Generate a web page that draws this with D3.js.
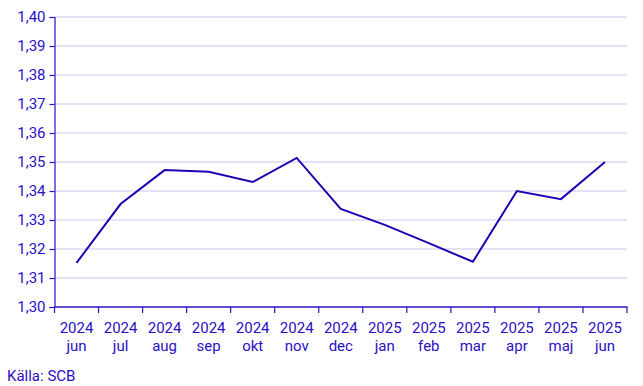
<!DOCTYPE html>
<html>
<head>
<meta charset="utf-8">
<script src="https://d3js.org/d3.v7.min.js"></script>
<style>
  body { margin: 0; background: #fff; }
  text { font-family: Roboto, Arial, sans-serif; }
</style>
</head>
<body>
<svg width="643" height="386"></svg>
<script>
// monthly values, jun 2024 - jun 2025
var years = ["2024", "2024", "2024", "2024", "2024", "2024", "2024", "2025", "2025", "2025", "2025", "2025", "2025"];
var months = ["jun", "jul", "aug", "sep", "okt", "nov", "dec", "jan", "feb", "mar", "apr", "maj", "jun"];
var values = [1.3152, 1.3355, 1.3472, 1.3466, 1.3431, 1.3514, 1.3338, 1.3283, 1.3220, 1.3156, 1.3400, 1.3372, 1.3500];
var yTicks = [1.30, 1.31, 1.32, 1.33, 1.34, 1.35, 1.36, 1.37, 1.38, 1.39, 1.40];

var ink = "#2a10c4";
var svg = d3.select("svg");
var plotL = 54.5, plotR = 627, plotT = 17, plotB = 307;

var x = d3.scaleBand().domain(d3.range(values.length)).range([plotL, plotR]);
var y = d3.scaleLinear().domain([1.30, 1.40]).range([plotB, plotT]);

// gridlines
svg.append("g").selectAll("line")
  .data(yTicks.slice(1))
  .enter().append("line")
    .attr("x1", plotL).attr("x2", plotR)
    .attr("y1", function(d) { return y(d); })
    .attr("y2", function(d) { return y(d); })
    .attr("stroke", "#c9c6f0").attr("stroke-width", 1);

// y axis
var yAxis = svg.append("g")
  .attr("transform", "translate(" + plotL + ",0)")
  .call(d3.axisLeft(y).tickValues(yTicks).tickSize(5).tickPadding(4)
    .tickFormat(function(d) { return d3.format(".2f")(d).replace(".", ","); }));
yAxis.select(".domain").attr("stroke", ink).attr("stroke-width", 1.2);
yAxis.selectAll(".tick line").attr("stroke", ink).attr("stroke-width", 1.2);
yAxis.selectAll("text").attr("fill", ink).style("font-size", "15px")
  .style("font-family", "Roboto, Arial, sans-serif");

// x axis: ticks on band edges
var edges = d3.range(values.length + 1).map(function(i) { return plotL + i * x.bandwidth(); });
var xg = svg.append("g");
xg.append("line").attr("x1", plotL).attr("x2", plotR + 0.5)
  .attr("y1", plotB).attr("y2", plotB)
  .attr("stroke", ink).attr("stroke-width", 1.5);
xg.selectAll(".tk").data(edges).enter().append("line")
  .attr("x1", function(d) { return d; }).attr("x2", function(d) { return d; })
  .attr("y1", plotB).attr("y2", plotB + 6)
  .attr("stroke", ink).attr("stroke-width", 1.2);
var labels = xg.selectAll(".lbl").data(values).enter().append("text")
  .attr("text-anchor", "middle").attr("fill", ink).style("font-size", "15px")
  .attr("transform", function(d, i) { return "translate(" + (x(i) + x.bandwidth() / 2) + ",0)"; });
labels.append("tspan").attr("x", 0).attr("y", 333).text(function(d, i) { return years[i]; });
labels.append("tspan").attr("x", 0).attr("y", 351).text(function(d, i) { return months[i]; });

// line
var line = d3.line()
  .x(function(d, i) { return x(i) + x.bandwidth() / 2; })
  .y(function(d) { return y(d); });
svg.append("path").datum(values)
  .attr("d", line)
  .attr("fill", "none").attr("stroke", "#2200b4").attr("stroke-width", 2)
  .attr("stroke-linejoin", "miter");

svg.append("text").attr("x", 7).attr("y", 381).attr("fill", ink)
  .style("font-size", "15px").text("Källa: SCB");
</script>
</body>
</html>
